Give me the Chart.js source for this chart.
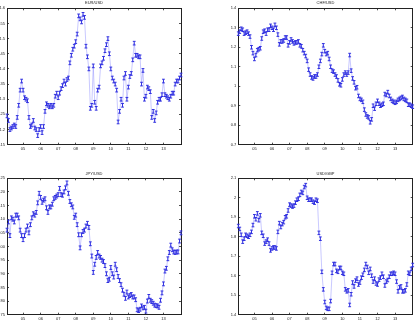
<!DOCTYPE html>
<html>
<head>
<meta charset="utf-8">
<script src="https://cdn.jsdelivr.net/npm/chart.js@4.4.1/dist/chart.umd.min.js"></script>
<style>
html, body { margin: 0; padding: 0; background: #fff; }
body { width: 417px; height: 328px; position: relative; overflow: hidden; }
.box { position: absolute; }
</style>
</head>
<body>
<div class="box" style="left:0;top:0;width:200px;height:164px"><canvas id="c1"></canvas></div>
<div class="box" style="left:208px;top:0;width:209px;height:164px"><canvas id="c2"></canvas></div>
<div class="box" style="left:0;top:164px;width:200px;height:164px"><canvas id="c3"></canvas></div>
<div class="box" style="left:208px;top:164px;width:209px;height:164px"><canvas id="c4"></canvas></div>
<script>
// monthly samples, Feb 2004 .. Jan 2014
const months = Array.from({ length: 120 }, (_, i) => 2004 + (i + 1) / 12);
const yearTicks = [2005, 2006, 2007, 2008, 2009, 2010, 2011, 2012, 2013];
const yearLabels = ['05', '06', '07', '08', '09', '10', '11', '12', '13'];

const eurUsd = [
  1.245, 1.23, 1.20, 1.205, 1.21, 1.215, 1.21, 1.24, 1.28, 1.33,
  1.36, 1.33, 1.305, 1.30, 1.295, 1.24, 1.21, 1.215, 1.23, 1.205,
  1.20, 1.18, 1.20, 1.21, 1.19, 1.21, 1.26, 1.285, 1.28, 1.275,
  1.28, 1.275, 1.28, 1.31, 1.32, 1.305, 1.32, 1.335, 1.345, 1.36,
  1.35, 1.365, 1.37, 1.42, 1.445, 1.465, 1.475, 1.49, 1.515, 1.575,
  1.565, 1.555, 1.58, 1.57, 1.475, 1.44, 1.40, 1.27, 1.28, 1.41,
  1.29, 1.27, 1.33, 1.34, 1.41, 1.42, 1.435, 1.46, 1.48, 1.50,
  1.45, 1.40, 1.37, 1.36, 1.35, 1.33, 1.225, 1.26, 1.30, 1.28,
  1.37, 1.385, 1.30, 1.34, 1.375, 1.385, 1.43, 1.485, 1.445, 1.445,
  1.44, 1.44, 1.35, 1.395, 1.30, 1.31, 1.34, 1.335, 1.325, 1.24,
  1.26, 1.23, 1.255, 1.29, 1.30, 1.30, 1.315, 1.36, 1.315, 1.31,
  1.305, 1.30, 1.31, 1.32, 1.32, 1.35, 1.36, 1.36, 1.37, 1.38
];
const chfUsd = [
  1.27, 1.28, 1.295, 1.29, 1.27, 1.275, 1.28, 1.27, 1.255, 1.20,
  1.17, 1.14, 1.16, 1.185, 1.19, 1.195, 1.245, 1.28, 1.285, 1.27,
  1.29, 1.29, 1.31, 1.30, 1.29, 1.315, 1.30, 1.265, 1.215, 1.23,
  1.23, 1.235, 1.25, 1.25, 1.21, 1.225, 1.24, 1.23, 1.22, 1.225,
  1.225, 1.23, 1.21, 1.205, 1.185, 1.17, 1.155, 1.13, 1.085, 1.06,
  1.045, 1.04, 1.05, 1.05, 1.06, 1.10, 1.13, 1.165, 1.21, 1.18,
  1.165, 1.17, 1.14, 1.10, 1.08, 1.075, 1.06, 1.05, 1.03, 1.01,
  1.005, 1.035, 1.06, 1.07, 1.06, 1.07, 1.16, 1.08, 1.04, 1.02,
  0.99, 0.995, 0.95, 0.935, 0.93, 0.92, 0.88, 0.855, 0.845, 0.84,
  0.815, 0.83, 0.90, 0.885, 0.91, 0.925, 0.91, 0.90, 0.905, 0.91,
  0.96, 0.955, 0.97, 0.95, 0.935, 0.925, 0.92, 0.915, 0.92, 0.93,
  0.935, 0.94, 0.945, 0.935, 0.93, 0.925, 0.905, 0.905, 0.90, 0.895
];
const jpyUsd = [
  106, 109, 104, 110.5, 110, 109, 111.5, 111.5, 110.5, 106,
  104, 102.5, 104, 106, 107.5, 105, 108, 110.5, 112, 111.5,
  112.5, 116, 119.5, 118, 116.2, 117, 117.5, 114.2, 112.5, 114.5,
  114.5, 115.5, 117.5, 118, 118.5, 119, 121.3, 119, 118.8, 120,
  121.5, 123.3, 119.5, 116.5, 115.3, 114.5, 110.7, 111.5, 108, 104.3,
  99.5, 104.3, 105.5, 106, 107.5, 108.5, 107, 101, 96.5, 90.5,
  93.5, 96, 97.8, 96.5, 96, 95, 94.5, 93, 90, 87.5,
  88, 92.3, 90, 88.8, 93.5, 91.5, 89, 87.5, 86, 84,
  82.5, 81, 83.3, 81.5, 82, 82.4, 81.5, 81.5, 80.5, 76.8,
  76.5, 77, 78.2, 77.5, 77.7, 76.3, 80, 81.7, 80.3, 79.8,
  79.2, 78.5, 78.3, 78.2, 77.7, 80.3, 83, 86.3, 91, 92,
  95.5, 97.8, 100.5, 98.8, 98, 97.8, 98, 98, 102, 105
];
const usdGbp = [
  1.855, 1.84, 1.81, 1.775, 1.79, 1.81, 1.805, 1.80, 1.81, 1.825,
  1.86, 1.905, 1.89, 1.92, 1.885, 1.91, 1.82, 1.805, 1.765, 1.775,
  1.785, 1.765, 1.73, 1.74, 1.745, 1.745, 1.74, 1.825, 1.87, 1.85,
  1.865, 1.875, 1.90, 1.905, 1.935, 1.965, 1.96, 1.955, 1.96, 1.975,
  1.99, 1.995, 2.015, 2.03, 2.025, 2.055, 2.065, 2.00, 1.99, 1.99,
  1.99, 1.98, 1.975, 1.99, 1.985, 1.82, 1.79, 1.62, 1.53, 1.465,
  1.435, 1.43, 1.43, 1.47, 1.615, 1.66, 1.66, 1.625, 1.62, 1.64,
  1.64, 1.615, 1.61, 1.53, 1.52, 1.525, 1.45, 1.505, 1.565, 1.545,
  1.575, 1.585, 1.555, 1.565, 1.59, 1.605, 1.63, 1.66, 1.645, 1.615,
  1.635, 1.60, 1.57, 1.585, 1.56, 1.555, 1.58, 1.59, 1.61, 1.595,
  1.55, 1.57, 1.578, 1.595, 1.61, 1.61, 1.615, 1.61, 1.57, 1.52,
  1.54, 1.545, 1.52, 1.52, 1.525, 1.555, 1.615, 1.61, 1.635, 1.655
];

// error bar half widths
const eurErr = 0.006;
const chfErr = 0.009;
const jpyErr = 0.7;
const gbpErr = 0.009;

const eurTicks = [1.15, 1.2, 1.25, 1.3, 1.35, 1.4, 1.45, 1.5, 1.55, 1.6];
const chfTicks = [0.7, 0.8, 0.9, 1, 1.1, 1.2, 1.3, 1.4];
const jpyTicks = [75, 80, 85, 90, 95, 100, 105, 110, 115, 120, 125];
const gbpTicks = [1.4, 1.5, 1.6, 1.7, 1.8, 1.9, 2, 2.1];

const FONT = { family: "'Liberation Sans', Arial, sans-serif", size: 4 };
const AXIS_COL = '#222';

// MATLAB style error bars, drawn through the y scale
const errorBars = {
  id: 'errorBars',
  afterDatasetsDraw(chart, args, opts) {
    const meta = chart.getDatasetMeta(0);
    const ys = chart.scales.y;
    const ds = chart.data.datasets[0];
    const ctx = chart.ctx;
    ctx.save();
    ctx.strokeStyle = opts.color;
    ctx.lineWidth = 1;
    ctx.beginPath();
    meta.data.forEach((pt, i) => {
      const v = ds.data[i].y;
      const top = ys.getPixelForValue(v + opts.err);
      const bot = ys.getPixelForValue(v - opts.err);
      const x = pt.x;
      ctx.moveTo(x, top); ctx.lineTo(x, bot);
      ctx.moveTo(x - opts.cap, top); ctx.lineTo(x + opts.cap, top);
      ctx.moveTo(x - opts.cap, bot); ctx.lineTo(x + opts.cap, bot);
    });
    ctx.stroke();
    ctx.restore();
  }
};

function makeChart(id, title, values, err, yTicks, box) {
  const pts = values.map((v, i) => ({ x: months[i], y: v }));
  const yMin = yTicks[0], yMax = yTicks[yTicks.length - 1];
  const grid = { display: true, drawOnChartArea: false, drawTicks: true, tickLength: -2, color: AXIS_COL, lineWidth: 0.8 };
  const border = { display: true, color: AXIS_COL, width: 1 };
  const xBase = {
    type: 'linear', min: months[0], max: months[months.length - 1],
    afterBuildTicks: s => { s.ticks = yearTicks.map(v => ({ value: v })); },
    grid: grid, border: border
  };
  const yBase = {
    type: 'linear', min: yMin, max: yMax,
    afterBuildTicks: s => { s.ticks = yTicks.map(v => ({ value: v })); },
    grid: grid, border: border
  };

  return new Chart(document.getElementById(id), {
    type: 'line',
    data: {
      datasets: [{
        data: pts,
        borderColor: 'rgba(120,120,255,0.5)',
        borderWidth: 0.8,
        pointRadius: 0,
        tension: 0
      }]
    },
    plugins: [errorBars],
    options: {
      responsive: true,
      maintainAspectRatio: false,
      animation: false,
      devicePixelRatio: 1,
      layout: { padding: 0 },
      plugins: {
        legend: { display: false },
        tooltip: { enabled: false },
        errorBars: { err: err, cap: 1.4, color: '#3030e0' }
      },
      scales: {
        x: Object.assign({}, xBase, {
          position: 'bottom',
          ticks: {
            font: FONT, color: AXIS_COL, padding: 4, maxRotation: 0, autoSkip: false,
            callback: v => yearLabels[yearTicks.indexOf(v)]
          },
          afterFit: s => { s.height = box.bottom; }
        }),
        x2: Object.assign({}, xBase, {
          position: 'top',
          ticks: { display: false },
          title: { display: true, text: title, font: FONT, color: AXIS_COL, padding: { top: box.titlePad, bottom: 0 } },
          afterFit: s => { s.height = box.top; }
        }),
        y: Object.assign({}, yBase, {
          position: 'left',
          ticks: {
            font: FONT, color: AXIS_COL, padding: 4, autoSkip: false,
            callback: v => String(+v.toFixed(2))
          },
          afterFit: s => { s.width = box.left; }
        }),
        y2: Object.assign({}, yBase, {
          position: 'right',
          ticks: { display: false },
          afterFit: s => { s.width = box.right; }
        })
      }
    }
  });
}

// box: space taken by axes around each plot area, in px
makeChart('c1', 'EUR/USD', eurUsd, eurErr, eurTicks, { left: 7, right: 19, top: 8.3, bottom: 19.3, titlePad: 0.9 });
makeChart('c2', 'CHF/USD', chfUsd, chfErr, chfTicks, { left: 30.3, right: 4.3, top: 8.3, bottom: 19.3, titlePad: 0.9 });
makeChart('c3', 'JPY/USD', jpyUsd, jpyErr, jpyTicks, { left: 7, right: 19, top: 14.3, bottom: 13.3, titlePad: 7.6 });
makeChart('c4', 'USD/GBP', usdGbp, gbpErr, gbpTicks, { left: 30.3, right: 4.3, top: 14.3, bottom: 13.3, titlePad: 7.6 });
</script>
</body>
</html>
